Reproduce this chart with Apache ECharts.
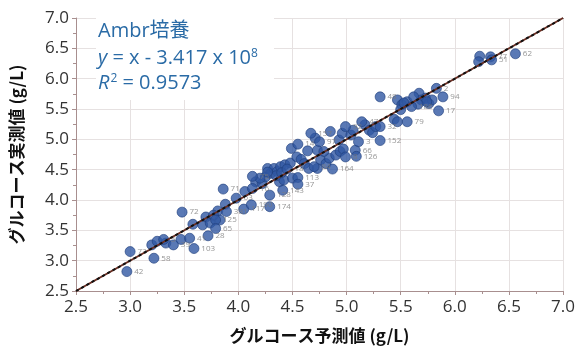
<!DOCTYPE html>
<html><head><meta charset="utf-8">
<script src="https://cdn.jsdelivr.net/npm/echarts@6/dist/echarts.min.js"></script>
<style>html,body{margin:0;padding:0;background:#fff}#c{width:578px;height:352px}</style>
</head><body><div id="c"></div>
<script>
const predicted = [2.97,3.00,3.22,3.20,3.25,3.31,3.33,3.40,3.47,3.55,3.59,3.48,3.58,3.67,3.70,3.72,3.79,3.79,3.81,3.83,3.86,3.88,3.89,3.98,4.05,4.12,4.06,4.13,4.13,4.16,4.22,4.25,4.27,4.30,4.33,4.36,4.39,4.43,4.45,4.48,4.29,4.29,4.41,4.38,4.42,4.50,4.55,4.55,4.49,4.55,4.64,4.54,4.58,4.61,4.65,4.70,4.73,4.76,4.81,4.84,4.87,4.90,4.94,4.97,4.99,4.67,4.71,4.75,4.73,4.79,4.85,4.93,4.96,4.99,5.04,5.06,5.08,5.09,5.11,5.14,5.17,5.21,5.24,5.27,5.31,5.31,5.31,5.44,5.47,5.56,5.47,5.51,5.56,5.60,5.67,5.69,5.73,5.76,5.79,5.83,5.85,5.89,5.50,6.23,6.22,6.33,6.34,6.56,5.62,5.53,5.74,5.66,4.20,4.35,4.40,4.27,3.74,3.77];
const measured = [2.82,3.15,3.04,3.26,3.32,3.35,3.29,3.26,3.35,3.37,3.20,3.80,3.60,3.59,3.72,3.41,3.67,3.53,3.82,3.67,4.18,3.93,3.81,4.03,3.85,3.92,4.14,4.39,4.19,4.30,4.27,4.38,4.52,4.44,4.52,4.47,4.55,4.58,4.51,4.61,4.08,3.89,4.16,4.30,4.33,4.36,4.37,4.26,4.85,4.92,4.81,4.71,4.67,4.60,4.52,4.55,4.52,4.66,4.60,4.69,4.51,4.74,4.80,4.84,4.71,5.10,5.02,4.96,4.82,4.80,5.13,4.99,5.10,5.21,5.07,5.15,4.82,4.72,4.96,5.29,5.24,5.15,5.11,5.21,5.21,4.98,5.70,5.33,5.29,5.29,5.65,5.57,5.62,5.54,5.76,5.65,5.68,5.59,5.65,5.84,5.47,5.70,5.49,6.37,6.28,6.36,6.31,6.41,5.70,5.60,5.62,5.58,4.36,4.40,4.45,4.46,3.62,3.75];
const sampleIds = ['42','73','58','','','5','','39','','41','103','72','','','','28','125','65','','','71','','381','63','117','190','','75','16','','','','','','','','','','18','','128','174','143','','','','113','37','','14','','','','','','84','','','','','164','','','','8','157','','97','','','','','','92','','','66','126','3','47','','','','','32','152','48','','','79','','','','186','','','','','','2','17','94','','','','77','51','62','','','','','','','','','',''];
const axisTicks = [2.5,3.0,3.5,4.0,4.5,5.0,5.5,6.0,6.5,7.0];
const identityLine = [[2.5,2.5],[7.0,7.0]];

const pts = predicted.map((x,i)=>({value:[x, measured[i]], id: sampleIds[i]}));
const chart = echarts.init(document.getElementById('c'), null, {renderer:'canvas'});
const axisCommon = {
  type:'value', min: axisTicks[0], max: axisTicks[axisTicks.length-1], interval: 0.5,
  axisLine:{show:true, lineStyle:{color:'#a88f8f', width:1}},
  axisTick:{show:true, length:4, lineStyle:{color:'#a88f8f'}},
  minorTick:{show:true, splitNumber:2, length:3, lineStyle:{color:'#a88f8f'}},
  splitLine:{show:true, lineStyle:{color:'#e6e1e1', width:1}},
  axisLabel:{fontSize:17, color:'#333', fontFamily:'Open Sans', formatter:v=>v.toFixed(1)},
  nameLocation:'middle',
  nameTextStyle:{fontSize:17, fontWeight:'bold', color:'#111', fontFamily:'Noto Sans CJK JP'}
};
chart.setOption({
  animation:false,
  grid:{left:76, right:13, top:18, bottom:61},
  xAxis:Object.assign({}, axisCommon, {name:'グルコース予測値 (g/L)', nameGap:36,
    axisLabel:Object.assign({}, axisCommon.axisLabel, {margin:8})}),
  yAxis:Object.assign({}, axisCommon, {name:'グルコース実測値 (g/L)', nameGap:51,
    axisLabel:Object.assign({}, axisCommon.axisLabel, {margin:7})}),
  graphic:[
    {type:'rect', left:96, top:16, shape:{width:178, height:84}, style:{fill:'#fff'}, z:50},
    {type:'text', left:98, top:21, z:51, style:{text:'Ambr培養', fontSize:20, fontFamily:'Open Sans, Noto Sans CJK JP', fill:'#2a6ba6'}},
    {type:'text', left:98, top:48, z:51, style:{text:'{i|y} = x - 3.417 x 10', rich:{i:{fontStyle:'italic', fontSize:20, fontFamily:'Open Sans', fill:'#2a6ba6'}}, fontSize:20, fontFamily:'Open Sans', fill:'#2a6ba6'}},
    {type:'text', left:251, top:48, z:51, style:{text:'8', fontSize:12, fontFamily:'Open Sans', fill:'#2a6ba6'}},
    {type:'text', left:98, top:73, z:51, style:{text:'{i|R}{s|2} = 0.9573', rich:{i:{fontStyle:'italic', fontSize:20, fontFamily:'Open Sans', fill:'#2a6ba6'}, s:{fontSize:12, fontFamily:'Open Sans', fill:'#2a6ba6', padding:[0,0,8,1]}}, fontSize:20, fontFamily:'Open Sans', fill:'#2a6ba6'}}
  ],
  series:[
    {type:'scatter', data:pts, symbolSize:10, z:3,
     itemStyle:{color:'#3158a3', borderColor:'#203f7c', borderWidth:0.8},
     label:{show:true, position:'right', distance:2, fontSize:8, color:'#7a7a7a', fontFamily:'Open Sans',
       formatter:p=>p.data.id}},
    {type:'line', data:identityLine, symbol:'none', z:4, silent:true,
     lineStyle:{color:'#6b2e22', width:2, type:'solid'}},
    {type:'line', data:identityLine, symbol:'none', z:5, silent:true,
     lineStyle:{color:'#111', width:2, type:[3,3]}}
  ]
});
</script></body></html>
